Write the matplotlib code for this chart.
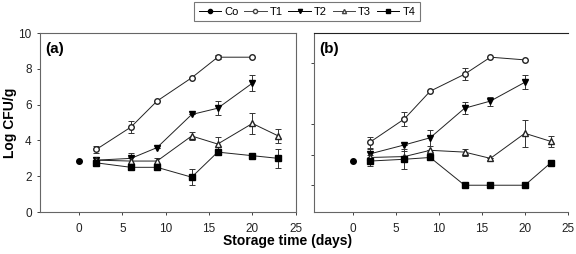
import matplotlib.pyplot as plt
from matplotlib.lines import Line2D

plt.rcParams['font.family'] = ['Liberation Sans', 'DejaVu Sans']

# Datos
dias = [2, 6, 9, 13, 16, 20]
dias_t = [2, 6, 9, 13, 16, 20, 23]
co_dia = [0]
co_a = [2.85]
co_b = [2.85]

# Panel (a)
t1_a = [3.5, 4.75, 6.2, 7.5, 8.65, 8.65]
t1_a_err = [0.2, 0.35, 0.0, 0.0, 0.12, 0.0]
t2_a = [2.9, 3.0, 3.6, 5.45, 5.8, 7.2]
t2_a_err = [0.15, 0.3, 0.0, 0.0, 0.4, 0.45]
t3_a = [2.9, 2.85, 2.85, 4.25, 3.8, 4.95, 4.25]
t3_a_err = [0.15, 0.2, 0.15, 0.2, 0.4, 0.6, 0.4]
t4_a = [2.75, 2.5, 2.5, 1.95, 3.35, 3.15, 3.0]
t4_a_err = [0.15, 0.15, 0.1, 0.45, 0.15, 0.0, 0.55]

# Panel (b)
t1_b = [3.9, 5.2, 6.75, 7.7, 8.65, 8.5]
t1_b_err = [0.3, 0.4, 0.0, 0.35, 0.0, 0.0]
t2_b = [3.25, 3.75, 4.15, 5.8, 6.2, 7.25]
t2_b_err = [0.25, 0.0, 0.45, 0.35, 0.25, 0.4]
t3_b = [3.05, 3.1, 3.45, 3.35, 3.0, 4.4, 3.95]
t3_b_err = [0.15, 0.3, 0.0, 0.2, 0.0, 0.75, 0.3]
t4_b = [2.85, 2.95, 3.05, 1.5, 1.5, 1.5, 2.75]
t4_b_err = [0.25, 0.55, 0.0, 0.0, 0.0, 0.0, 0.15]

ticks_b = [1.5, 3.2, 4.9, 8.3]

fig = plt.figure(figsize=(5.76, 2.54), dpi=100)
ax1 = fig.add_axes([0.0694, 0.165, 0.444, 0.705])
ax2 = fig.add_axes([0.545, 0.165, 0.441, 0.705])

estilo = dict(color='#222222', lw=0.7, ms=4, capsize=2.5, elinewidth=0.7,
              capthick=0.7, ecolor='#333333')


def dibujar(ax, t1, e1, t2, e2, t3, e3, t4, e4, co):
    ax.plot(co_dia, co, 'o', color='black', ms=4)
    ax.errorbar(dias, t1, yerr=e1, marker='o', mfc='white', mec='#222222', **estilo)
    ax.errorbar(dias, t2, yerr=e2, marker='v', mfc='black', mec='black', **estilo)
    ax.errorbar(dias_t, t3, yerr=e3, marker='^', mfc='white', mec='#222222', **estilo)
    ax.errorbar(dias_t, t4, yerr=e4, marker='s', mfc='black', mec='black', **estilo)
    ax.set_xlim(-4.5, 25)
    ax.set_ylim(0, 10)
    ax.set_xticks([0, 5, 10, 15, 20, 25])
    ax.tick_params(labelsize=8.5, length=2.5, width=0.6, colors='#222222')
    ax.tick_params(axis='x', pad=5)
    for s in ax.spines.values():
        s.set_color('#666666')
        s.set_linewidth(0.8)


dibujar(ax1, t1_a, t1_a_err, t2_a, t2_a_err, t3_a, t3_a_err, t4_a, t4_a_err, co_a)
dibujar(ax2, t1_b, t1_b_err, t2_b, t2_b_err, t3_b, t3_b_err, t4_b, t4_b_err, co_b)

ax1.set_yticks([0, 2, 4, 6, 8, 10])
ax1.set_ylabel('Log CFU/g', fontsize=10, fontweight='bold', labelpad=1)
ax2.set_yticks(ticks_b)
ax2.set_yticklabels([])
ax2.spines['right'].set_visible(False)
ax2.spines['top'].set_color('#222222')

ax1.text(0.02, 0.95, '(a)', transform=ax1.transAxes, fontsize=11,
         fontweight='bold', va='top')
ax2.text(0.02, 0.95, '(b)', transform=ax2.transAxes, fontsize=11,
         fontweight='bold', va='top')

fig.text(0.5, 0.025, 'Storage time (days)', ha='center', va='bottom',
         fontsize=10, fontweight='bold')

# Leyenda comun
handles = [
    Line2D([], [], color='black', lw=0.7, marker='o', ms=3, mfc='black'),
    Line2D([], [], color='#444444', lw=0.7, marker='o', ms=3, mfc='white'),
    Line2D([], [], color='black', lw=0.7, marker='v', ms=3, mfc='black'),
    Line2D([], [], color='#444444', lw=0.7, marker='^', ms=3, mfc='white'),
    Line2D([], [], color='black', lw=0.7, marker='s', ms=3, mfc='black'),
]
etiquetas = ['Co', 'T1', 'T2', 'T3', 'T4']
leg = fig.legend(handles, etiquetas, loc='center', bbox_to_anchor=(0.533, 0.953),
                 ncol=5, fontsize=8, frameon=True, fancybox=False,
                 handlelength=2.0, handletextpad=0.3, columnspacing=0.5,
                 borderpad=0.4)
leg.get_frame().set_edgecolor('#555555')
leg.get_frame().set_linewidth(0.8)

fig.savefig('out.png', dpi=100)
